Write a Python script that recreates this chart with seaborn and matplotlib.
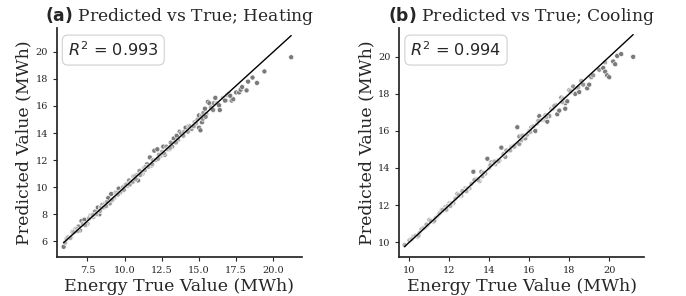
import matplotlib
matplotlib.use("Agg")
import matplotlib.pyplot as plt
import pandas as pd
import seaborn as sns

# Heating: true vs predicted (MWh)
heat_true = [5.9, 6.0, 6.1, 6.3, 6.5, 6.7, 6.9, 7.0, 7.1, 7.3, 7.5, 7.7, 7.9, 8.0,
             8.2, 8.3, 8.5, 8.7, 8.9, 9.0, 9.1, 9.3, 9.4, 9.6, 9.8, 10.0, 10.2,
             10.3, 10.5, 10.6, 10.8, 10.9, 11.0, 11.2, 11.3, 11.5, 11.7, 11.8,
             11.9, 12.0, 12.2, 12.4, 12.5, 12.6, 12.7, 12.8, 13.0, 13.1, 13.2,
             13.3, 13.4, 13.5, 13.7, 13.8, 14.0, 14.1, 14.3, 14.5, 14.7, 14.9,
             15.0, 15.0, 15.1, 15.2, 15.2, 15.3, 15.4, 15.6, 15.7, 15.8, 16.0,
             16.1, 16.2, 16.4, 16.6, 16.8, 16.9, 17.0, 17.2, 17.3, 17.5, 17.7,
             17.8, 17.9, 18.2, 18.3, 18.6, 18.9, 19.4, 21.2,
             6.2, 6.4, 6.6, 6.8, 7.2, 7.4, 7.6, 7.8, 8.1, 8.4, 8.6, 8.8, 9.2,
             9.5, 9.7, 9.9, 10.1, 10.4, 10.7, 11.1, 11.4, 11.6, 12.1, 12.3,
             12.9, 13.6, 14.2, 14.4, 14.8, 15.5,
             6.35, 6.85, 7.35, 7.85, 8.35, 8.75, 9.15, 9.55, 9.95, 10.35, 10.55,
             10.75, 11.05, 11.35, 11.85, 12.25, 12.65, 13.05, 13.45, 13.95,
             14.25, 14.65, 15.25, 15.45, 15.95, 16.35, 16.75, 17.1]
heat_pred = [5.6, 5.9, 6.2, 6.3, 6.7, 6.9, 7.1, 6.8, 7.5, 7.6, 7.3, 7.9, 7.8, 8.2,
             8.5, 8.0, 8.7, 8.8, 9.2, 8.8, 9.5, 9.2, 9.6, 9.9, 9.7, 10.1, 10.1,
             10.5, 10.4, 10.8, 10.9, 10.5, 11.2, 11.0, 11.4, 11.7, 12.2, 11.6,
             12.0, 12.7, 12.8, 12.3, 12.6, 13.0, 12.4, 13.0, 12.8, 13.3, 13.0,
             13.6, 13.3, 13.8, 14.1, 14.0, 14.1, 14.4, 14.5, 14.3, 14.8, 15.0,
             15.3, 14.4, 14.2, 15.3, 14.8, 15.5, 15.8, 16.3, 16.2, 15.9, 16.2,
             16.6, 16.2, 15.7, 16.6, 16.4, 16.8, 16.9, 16.4, 16.5, 17.0, 17.0,
             17.2, 17.4, 17.15, 17.8, 18.1, 17.7, 18.55, 19.6,
             6.3, 6.3, 6.7, 6.9, 7.3, 7.3, 7.7, 7.9, 8.0, 8.5, 8.5, 8.9, 9.1,
             9.6, 9.6, 10.0, 10.2, 10.3, 10.8, 11.0, 11.5, 11.5, 12.0, 12.4,
             12.8, 13.5, 14.1, 14.5, 14.7, 15.4,
             6.25, 6.75, 7.2, 7.95, 8.25, 8.6, 9.05, 9.45, 9.8, 10.2, 10.4,
             10.6, 10.9, 11.25, 11.7, 12.1, 12.5, 12.9, 13.3, 13.8, 14.1, 14.5,
             15.05, 15.2, 15.7, 16.05, 16.4, 16.75]

# Cooling: true vs predicted (MWh)
cool_true = [9.75, 10.0, 10.2, 10.4, 10.6, 10.8, 11.0, 11.2, 11.4, 11.6, 11.8,
             12.0, 12.2, 12.4, 12.6, 12.8, 13.0, 13.2, 13.3, 13.5, 13.6, 13.8,
             13.9, 14.1, 14.3, 14.5, 14.6, 14.8, 15.0, 15.3, 15.4, 15.5, 15.5,
             15.6, 15.8, 15.9, 16.1, 16.3, 16.4, 16.5, 16.7, 16.9, 17.0, 17.1,
             17.3, 17.4, 17.5, 17.6, 17.8, 17.8, 17.9, 18.0, 18.2, 18.3, 18.4,
             18.5, 18.6, 18.7, 18.9, 19.0, 19.1, 19.2, 19.5, 19.7, 19.8, 19.8,
             19.9, 20.0, 20.2, 20.3, 20.4, 20.6, 21.2,
             10.1, 10.3, 10.5, 10.7, 10.9, 11.1, 11.3, 11.5, 11.7, 11.9, 12.1,
             12.3, 12.5, 12.7, 12.9, 13.1, 13.4, 13.7, 14.0, 14.2, 14.4, 14.7,
             14.9, 15.1, 15.2, 15.7, 16.0, 16.2, 16.6, 16.8, 17.2, 17.7, 18.1,
             10.45, 10.85, 11.25, 11.65, 12.05, 12.45, 12.85, 13.25, 13.65,
             14.05, 14.45, 14.85, 15.25, 15.65, 16.05, 16.45, 16.85, 17.25,
             17.65, 18.05, 18.45, 11.05, 11.85, 12.65, 13.45, 14.25, 15.05]
cool_pred = [9.85, 10.1, 10.3, 10.3, 10.7, 10.8, 11.2, 11.1, 11.4, 11.7, 11.9,
             12.1, 12.1, 12.6, 12.5, 12.9, 12.9, 13.8, 13.4, 13.3, 13.8, 13.7,
             14.5, 14.3, 14.2, 14.4, 15.1, 14.6, 15.0, 15.2, 16.2, 15.3, 15.7,
             15.5, 15.6, 15.8, 16.2, 16.0, 16.4, 16.8, 16.6, 16.5, 16.8, 17.2,
             17.4, 16.9, 17.1, 17.8, 17.2, 17.5, 17.6, 18.2, 18.4, 18.0, 18.3,
             18.1, 18.7, 18.5, 18.3, 18.5, 18.9, 19.0, 19.3, 19.4, 19.7, 19.2,
             19.0, 18.9, 19.75, 19.6, 20.05, 20.15, 20.0,
             10.15, 10.35, 10.5, 10.75, 10.9, 11.15, 11.3, 11.55, 11.7, 11.95,
             12.1, 12.35, 12.5, 12.75, 12.9, 13.15, 13.4, 13.75, 14.0, 14.25,
             14.4, 14.75, 14.9, 15.15, 15.2, 15.75, 16.0, 16.25, 16.6, 16.85,
             17.2, 17.75, 18.1,
             10.35, 10.95, 11.15, 11.75, 11.95, 12.55, 12.75, 13.35, 13.55,
             14.15, 14.35, 14.95, 15.15, 15.75, 15.95, 16.55, 16.75, 17.35,
             17.55, 18.15, 18.35, 11.15, 11.75, 12.75, 13.35, 14.35, 14.95]

titles = ["Predicted vs True; Heating", "Predicted vs True; Cooling"]
panel_tags = ["(a)", "(b)"]
r2_scores = [0.993, 0.994]
x_limits = [(5.45, 21.9), (9.5, 21.75)]
y_limits = [(4.85, 21.75), (9.2, 21.55)]

sns.set_theme(style="ticks")
plt.rcParams["font.family"] = ["DejaVu Serif"]
plt.rcParams["mathtext.fontset"] = "dejavusans"

cmap = sns.blend_palette(["#cdcdcd", "#7a7a7a"], as_cmap=True)

fig, axes = plt.subplots(1, 2, figsize=(6.86, 2.96), dpi=100)
fig.subplots_adjust(left=0.083, right=0.939, bottom=0.132, top=0.905, wspace=0.4)

datasets = [(heat_true, heat_pred), (cool_true, cool_pred)]
for i, ax in enumerate(axes):
    yt, yp = datasets[i]
    df = pd.DataFrame({"true": yt, "pred": yp})
    df["err"] = (df["pred"] - df["true"]).abs()
    sns.scatterplot(data=df, x="true", y="pred", hue="err", palette=cmap,
                    hue_norm=(0, 0.3), s=13, edgecolor="white", linewidth=0.4,
                    legend=False, ax=ax)
    lo, hi = min(yt), max(yt)
    ax.plot([lo, hi], [lo, hi], color="black", lw=1)
    ax.set_xlim(x_limits[i])
    ax.set_ylim(y_limits[i])
    ax.set_title(r"$\bf{" + panel_tags[i] + "}$ " + titles[i], fontsize=12.3, pad=5)
    ax.set_xlabel("Energy True Value (MWh)", fontsize=12.5, labelpad=2)
    ax.set_ylabel("Predicted Value (MWh)", fontsize=12.5, labelpad=2)
    ax.tick_params(labelsize=7, length=3, width=0.8)
    ax.text(0.045, 0.945, rf"$R^2$ = {r2_scores[i]:.3f}", transform=ax.transAxes,
            family="DejaVu Sans", fontsize=11.6, va="top", ha="left",
            bbox=dict(boxstyle="round,pad=0.35", facecolor="white",
                      edgecolor="#d0d0d0", linewidth=0.8))
    sns.despine(ax=ax)

axes[1].set_xticks([10, 12, 14, 16, 18, 20])

fig.savefig("out.png", dpi=100)
